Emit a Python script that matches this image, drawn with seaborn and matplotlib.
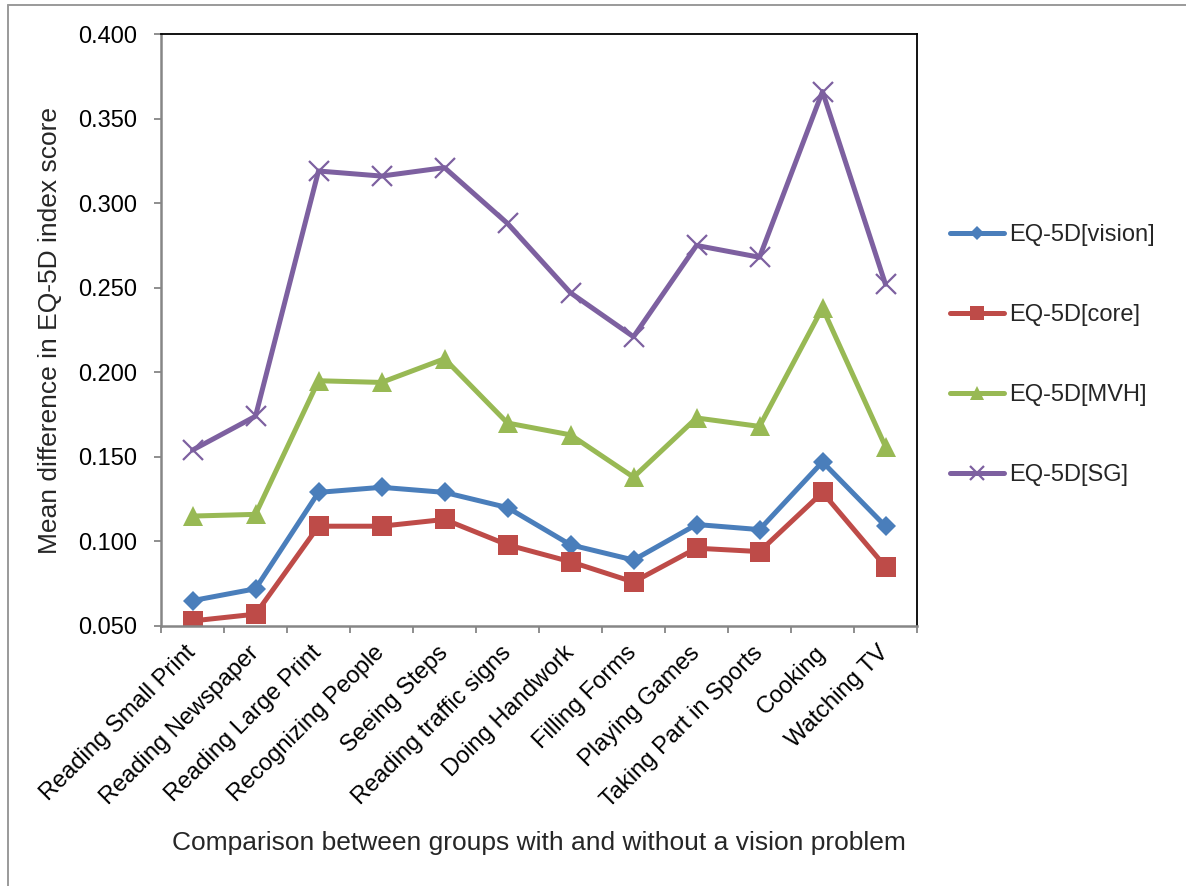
import matplotlib
matplotlib.use("Agg")
import matplotlib.pyplot as plt
from matplotlib.lines import Line2D
from matplotlib.ticker import FixedLocator, FormatStrFormatter
import seaborn as sns

categories = [
    "Reading Small Print", "Reading Newspaper", "Reading Large Print",
    "Recognizing People", "Seeing Steps", "Reading traffic signs",
    "Doing Handwork", "Filling Forms", "Playing Games",
    "Taking Part in Sports", "Cooking", "Watching TV",
]
eq5d_vision = [0.065, 0.072, 0.129, 0.132, 0.129, 0.120, 0.098, 0.089, 0.110, 0.107, 0.147, 0.109]
eq5d_core = [0.053, 0.057, 0.109, 0.109, 0.113, 0.098, 0.088, 0.076, 0.096, 0.094, 0.129, 0.085]
eq5d_mvh = [0.115, 0.116, 0.195, 0.194, 0.208, 0.170, 0.163, 0.138, 0.173, 0.168, 0.238, 0.156]
eq5d_sg = [0.154, 0.174, 0.319, 0.316, 0.321, 0.288, 0.247, 0.221, 0.275, 0.268, 0.366, 0.252]
series_names = ["EQ-5D[vision]", "EQ-5D[core]", "EQ-5D[MVH]", "EQ-5D[SG]"]
y_ticks = [0.05, 0.10, 0.15, 0.20, 0.25, 0.30, 0.35, 0.40]

sns.set_style("white")
plt.rcParams["font.family"] = ["Liberation Sans", "DejaVu Sans"]

W, H = 1186, 886
fig = plt.figure(figsize=(W / 100, H / 100), dpi=100)
ax = fig.add_axes([161 / W, 1 - 626 / H, (917 - 161) / W, (626 - 34) / H])

styles = [
    dict(color="#4A7EBB", marker="D", markersize=10, markeredgewidth=0),
    dict(color="#BE4B48", marker="s", markersize=14, markeredgewidth=0),
    dict(color="#98B954", marker="^", markersize=14, markeredgewidth=0),
    dict(color="#7D60A0", marker="x", markersize=14, markeredgewidth=1.6),
]
all_values = [eq5d_vision, eq5d_core, eq5d_mvh, eq5d_sg]

for name, vals, st in zip(series_names, all_values, styles):
    sns.lineplot(x=categories, y=vals, ax=ax, sort=False, linewidth=3.6,
                 label=name, markeredgecolor=st["color"], **st)

# axes limits and ticks
ax.set_xlim(-0.5, len(categories) - 0.5)
ax.set_ylim(0.05, 0.40)
ax.yaxis.set_major_locator(FixedLocator(y_ticks))
ax.yaxis.set_major_formatter(FormatStrFormatter("%.3f"))
ax.set_xticks(range(len(categories)))
ax.set_xticks([i - 0.5 for i in range(len(categories) + 1)], minor=True)
ax.set_xticklabels(categories, rotation=45, ha="right", va="center",
                   rotation_mode="anchor", fontsize=17)

grey = "#868686"
ax.tick_params(axis="x", which="major", length=0, pad=17, labelcolor="black")
ax.tick_params(axis="x", which="minor", length=5, width=1.3, color=grey,
               direction="out", bottom=True)
ax.tick_params(axis="y", which="major", length=5, width=1.3, color=grey,
               direction="out", left=True, pad=12, labelsize=17, labelcolor="black")

for side in ("left", "bottom"):
    ax.spines[side].set_color(grey)
    ax.spines[side].set_linewidth(1.8)
for side in ("top", "right"):
    ax.spines[side].set_color("black")
    ax.spines[side].set_linewidth(1.3)
ax.grid(False)

ax.set_ylabel("Mean difference in EQ-5D index score", fontsize=19)
ax.yaxis.label.set_va("center")
ax.yaxis.set_label_coords((50 - 161) / 756, 0.5)
ax.set_xlabel("Comparison between groups with and without a vision problem", fontsize=19)
ax.xaxis.label.set_va("center")
ax.xaxis.set_label_coords(0.5, (626 - 843) / 592)

leg = ax.legend(loc="center left", bbox_to_anchor=(950 / W, 1 - 355 / H),
                bbox_transform=fig.transFigure, frameon=False, fontsize=17,
                borderpad=0, borderaxespad=0, labelspacing=2.45,
                handlelength=2.3, handletextpad=0.2)
# legend keys use slightly smaller markers than the plotted series
for h in leg.legend_handles:
    h.set_markersize(h.get_markersize() * 0.75)

# outer chart frame
fig.add_artist(Line2D([8 / W, 8 / W], [0, 1 - 5 / H], transform=fig.transFigure,
                      color="#9a9a9a", lw=1.4))
fig.add_artist(Line2D([8 / W, 1], [1 - 5 / H, 1 - 5 / H], transform=fig.transFigure,
                      color="#9a9a9a", lw=1.4))

fig.savefig("out.png", dpi=100)
